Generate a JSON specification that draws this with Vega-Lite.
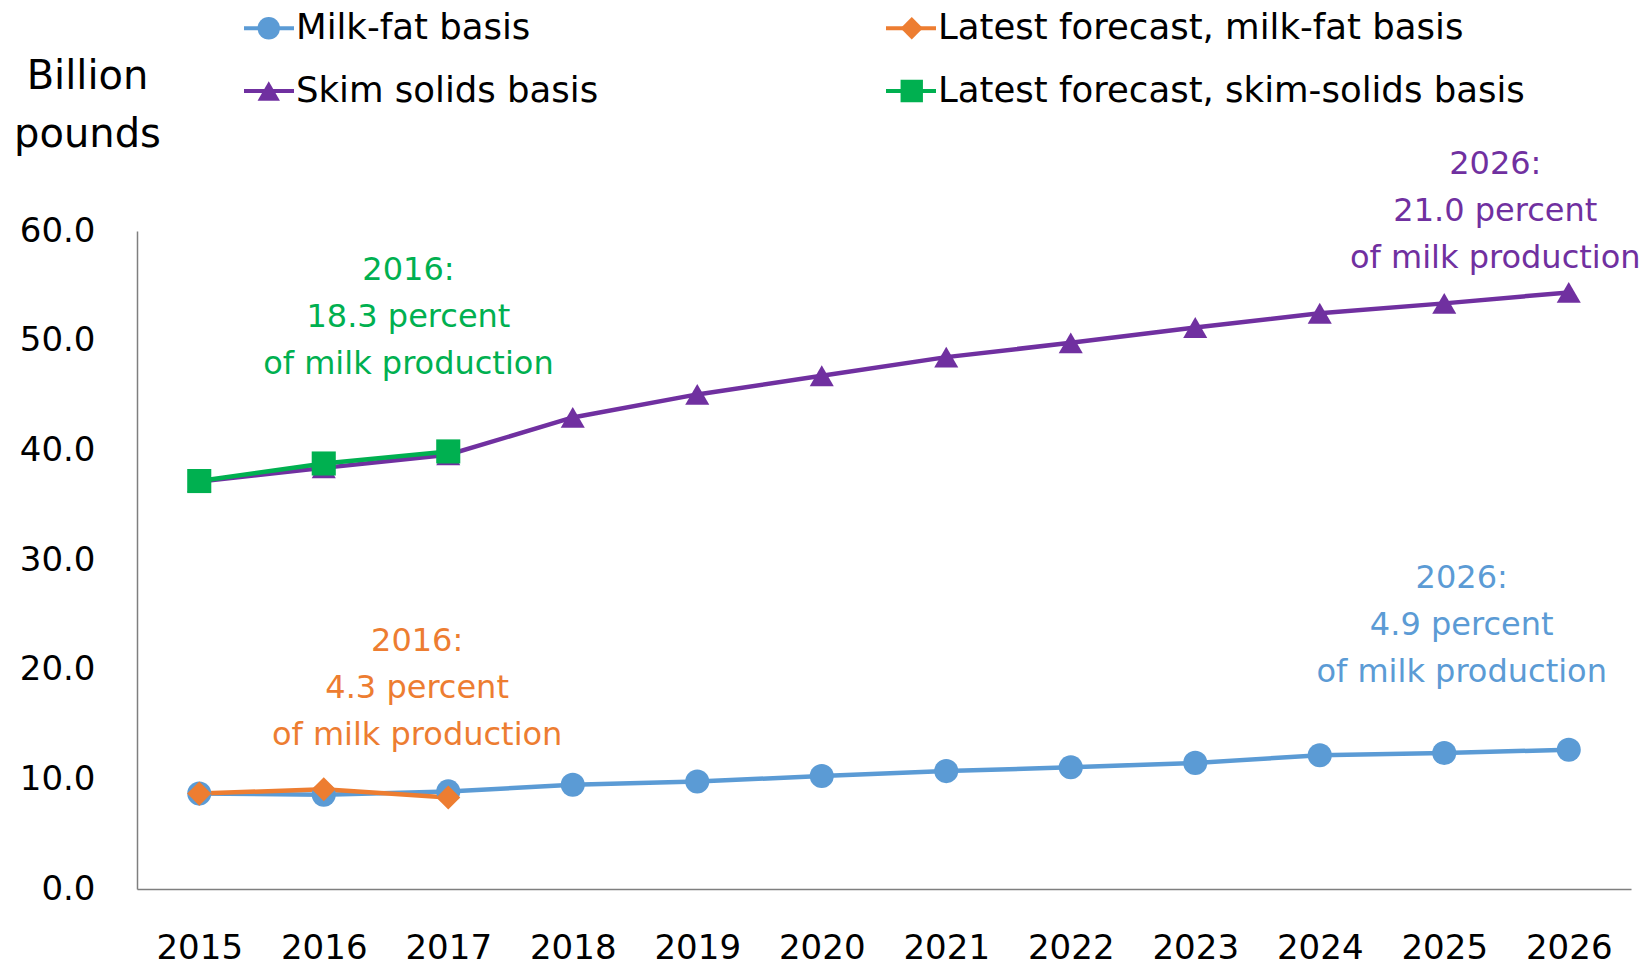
{
  "$schema": "https://vega.github.io/schema/vega-lite/v6.json",
  "width": 1494,
  "height": 658,
  "autosize": {"type": "none"},
  "padding": {"left": 137, "top": 231, "right": 19, "bottom": 78},
  "background": "white",
  "config": {"view": {"stroke": null}, "font": "DejaVu Sans"},
  "datasets": {
    "series": [
      {"year": 2015, "value": 8.7, "series": "Milk-fat basis"},
      {"year": 2016, "value": 8.6, "series": "Milk-fat basis"},
      {"year": 2017, "value": 8.9, "series": "Milk-fat basis"},
      {"year": 2018, "value": 9.5, "series": "Milk-fat basis"},
      {"year": 2019, "value": 9.8, "series": "Milk-fat basis"},
      {"year": 2020, "value": 10.3, "series": "Milk-fat basis"},
      {"year": 2021, "value": 10.75, "series": "Milk-fat basis"},
      {"year": 2022, "value": 11.1, "series": "Milk-fat basis"},
      {"year": 2023, "value": 11.5, "series": "Milk-fat basis"},
      {"year": 2024, "value": 12.2, "series": "Milk-fat basis"},
      {"year": 2025, "value": 12.4, "series": "Milk-fat basis"},
      {"year": 2026, "value": 12.7, "series": "Milk-fat basis"},
      {"year": 2015, "value": 37.15, "series": "Skim solids basis"},
      {"year": 2016, "value": 38.4, "series": "Skim solids basis"},
      {"year": 2017, "value": 39.6, "series": "Skim solids basis"},
      {"year": 2018, "value": 43.0, "series": "Skim solids basis"},
      {"year": 2019, "value": 45.1, "series": "Skim solids basis"},
      {"year": 2020, "value": 46.8, "series": "Skim solids basis"},
      {"year": 2021, "value": 48.5, "series": "Skim solids basis"},
      {"year": 2022, "value": 49.8, "series": "Skim solids basis"},
      {"year": 2023, "value": 51.2, "series": "Skim solids basis"},
      {"year": 2024, "value": 52.5, "series": "Skim solids basis"},
      {"year": 2025, "value": 53.4, "series": "Skim solids basis"},
      {"year": 2026, "value": 54.4, "series": "Skim solids basis"},
      {"year": 2015, "value": 8.7, "series": "Latest forecast, milk-fat basis"},
      {"year": 2016, "value": 9.1, "series": "Latest forecast, milk-fat basis"},
      {"year": 2017, "value": 8.35, "series": "Latest forecast, milk-fat basis"},
      {"year": 2015, "value": 37.2, "series": "Latest forecast, skim-solids basis"},
      {"year": 2016, "value": 38.8, "series": "Latest forecast, skim-solids basis"},
      {"year": 2017, "value": 39.9, "series": "Latest forecast, skim-solids basis"}
    ],
    "notes": [
      {"x": 2016.68, "y": 56.4, "series": "Latest forecast, skim-solids basis", "label": "2016:\n18.3 percent\nof milk production"},
      {"x": 2016.75, "y": 22.6, "series": "Latest forecast, milk-fat basis", "label": "2016:\n4.3 percent\nof milk production"},
      {"x": 2025.14, "y": 28.4, "series": "Milk-fat basis", "label": "2026:\n4.9 percent\nof milk production"},
      {"x": 2025.41, "y": 66.1, "series": "Skim solids basis", "label": "2026:\n21.0 percent\nof milk production"}
    ]
  },
  "layer": [
    {
      "data": {"name": "series"},
      "mark": {"type": "line", "strokeWidth": 4.5},
      "encoding": {
        "x": {
          "field": "year", "type": "quantitative",
          "scale": {"domain": [2014.5, 2026.5], "nice": false, "zero": false},
          "axis": {
            "title": null, "values": [2015, 2016, 2017, 2018, 2019, 2020, 2021, 2022, 2023, 2024, 2025, 2026],
            "format": "d", "grid": false, "ticks": false, "tickSize": 0, "labelFlush": false, "labelOverlap": false,
            "labelFont": "DejaVu Sans", "labelFontSize": 34, "labelColor": "#000000", "labelPadding": 42,
            "domainColor": "#7f7f7f", "domainWidth": 1.5
          }
        },
        "y": {
          "field": "value", "type": "quantitative",
          "scale": {"domain": [0, 60], "nice": false},
          "axis": {
            "title": ["Billion", "pounds"], "titleAngle": 0, "titleAlign": "center", "titleBaseline": "alphabetic",
            "titleX": -50, "titleY": -143, "titleFont": "DejaVu Sans", "titleFontSize": 40, "titleFontWeight": "normal",
            "titleColor": "#000000", "titleLineHeight": 58,
            "values": [0, 10, 20, 30, 40, 50, 60], "format": ".1f", "grid": false, "ticks": false, "tickSize": 0,
            "labelFont": "DejaVu Sans", "labelFontSize": 34, "labelColor": "#000000", "labelPadding": 42,
            "domainColor": "#7f7f7f", "domainWidth": 1.5
          }
        },
        "stroke": {
          "field": "series", "type": "nominal",
          "sort": ["Milk-fat basis", "Skim solids basis", "Latest forecast, milk-fat basis", "Latest forecast, skim-solids basis"],
          "scale": {"range": ["#5B9BD5", "#7030A0", "#ED7D31", "#00B050"]},
          "legend": {
            "title": null, "orient": "none", "legendX": 105, "legendY": -221, "padding": 0,
            "columns": 2, "columnPadding": 285, "rowPadding": 26, "clipHeight": 36,
            "symbolType": "stroke", "symbolSize": 2500, "symbolStrokeWidth": 4,
            "labelFont": "DejaVu Sans", "labelFontSize": 35.5, "labelColor": "#000000", "labelLimit": 600, "labelOffset": 0
          }
        }
      }
    },
    {
      "data": {"name": "series"},
      "mark": {"type": "point", "filled": true, "opacity": 1, "size": 580, "strokeWidth": 0},
      "encoding": {
        "x": {"field": "year", "type": "quantitative"},
        "y": {"field": "value", "type": "quantitative"},
        "fill": {
          "field": "series", "type": "nominal",
          "scale": {
            "domain": ["Milk-fat basis", "Skim solids basis", "Latest forecast, milk-fat basis", "Latest forecast, skim-solids basis"],
            "range": ["#5B9BD5", "#7030A0", "#ED7D31", "#00B050"]
          },
          "legend": {
            "title": null, "orient": "none", "legendX": 114, "legendY": -221, "padding": 0,
            "columns": 2, "columnPadding": 285, "rowPadding": 26, "clipHeight": 36,
            "symbolSize": 500, "symbolStrokeWidth": 0,
            "labelFont": "DejaVu Sans", "labelFontSize": 35.5, "labelOpacity": 0, "labelLimit": 600, "labelOffset": 20
          }
        },
        "shape": {
          "field": "series", "type": "nominal",
          "scale": {
            "domain": ["Milk-fat basis", "Skim solids basis", "Latest forecast, milk-fat basis", "Latest forecast, skim-solids basis"],
            "range": ["circle", "triangle-up", "diamond", "square"]
          },
          "legend": {
            "title": null, "orient": "none", "legendX": 114, "legendY": -221, "padding": 0,
            "columns": 2, "columnPadding": 285, "rowPadding": 26, "clipHeight": 36,
            "symbolSize": 500, "symbolStrokeWidth": 0,
            "labelFont": "DejaVu Sans", "labelFontSize": 35.5, "labelOpacity": 0, "labelLimit": 600, "labelOffset": 20
          }
        }
      }
    },
    {
      "data": {"name": "notes"},
      "mark": {"type": "text", "lineBreak": "\n", "font": "DejaVu Sans", "fontSize": 32, "align": "center", "baseline": "middle", "lineHeight": 47},
      "encoding": {
        "x": {"field": "x", "type": "quantitative"},
        "y": {"field": "y", "type": "quantitative"},
        "text": {"field": "label", "type": "nominal"},
        "color": {
          "field": "series", "type": "nominal",
          "scale": {
            "domain": ["Milk-fat basis", "Skim solids basis", "Latest forecast, milk-fat basis", "Latest forecast, skim-solids basis"],
            "range": ["#5B9BD5", "#7030A0", "#ED7D31", "#00B050"]
          },
          "legend": null
        }
      }
    }
  ]
}
